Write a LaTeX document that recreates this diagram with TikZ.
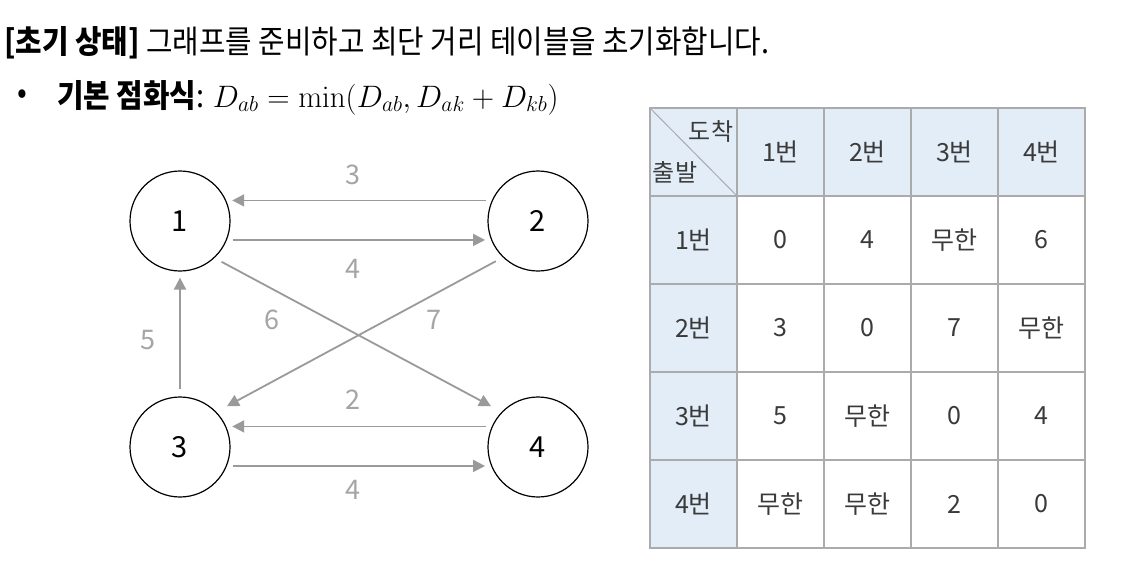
\RequirePackage{fix-cm}
\documentclass[tikz,border=0pt]{standalone}
\usepackage[no-math]{fontspec}
\setmainfont{Noto Sans CJK KR}
\newfontfamily\headfont[FakeStretch=0.9]{Noto Sans CJK KR}
\usepackage{tikz}
\usetikzlibrary{arrows.meta,positioning,calc}
\definecolor{edgegray}{HTML}{9A9A9A}
\definecolor{labelgray}{HTML}{A5A5A5}
\definecolor{gridgray}{HTML}{ABABAB}
\definecolor{headblue}{HTML}{E2EDF8}
\definecolor{textdark}{HTML}{3A3A3A}
\tikzset{
  title/.style={inner sep=0pt, text=black, font=\headfont\fontsize{32}{35}\selectfont},
  vertex/.style={draw=black, circle, line width=1.2pt, minimum size=100pt, inner sep=0pt, text=black, font=\fontsize{29}{31}\selectfont},
  edge/.style={-{Triangle[length=12pt,width=12pt]}, line width=1.8pt, draw=edgegray, shorten <=6pt, shorten >=6pt},
  weight/.style={inner sep=0pt, text=labelgray, font=\fontsize{27}{29}\selectfont},
  headcell/.style={draw=gridgray, fill=headblue, line width=1.2pt, minimum width=87pt, minimum height=88pt, inner sep=0pt, text=textdark, font=\fontsize{25}{28}\selectfont},
  cell/.style={draw=gridgray, fill=white, line width=1.2pt, minimum width=87pt, minimum height=88pt, inner sep=0pt, text=textdark, font=\fontsize{25}{28}\selectfont},
  cornerlabel/.style={inner sep=0pt, text=textdark, font=\fontsize{24}{26}\selectfont}
}
\begin{document}
\begin{tikzpicture}[x=1pt,y=1pt]
  \useasboundingbox[fill=white] (0,0) rectangle (1126,-563);

  % heading
  \node[title, anchor=base west] (title) at (4,-53) {\textbf{[초기 상태]} 그래프를 준비하고 최단 거리 테이블을 초기화합니다.};
  \node[title] (bullet) at (22,-97) {•};
  \node[title, anchor=base west] (rule) at (57,-107) {\textbf{기본 점화식}: {\fontsize{31}{34}\selectfont$D_{ab}=\min(D_{ab},D_{ak}+D_{kb})$}};

  % graph
  \node[vertex] (n1) at (180,-221) {1};
  \node[vertex] (n2) at (538,-221) {2};
  \node[vertex] (n3) at (180,-447) {3};
  \node[vertex] (n4) at (538,-447) {4};

  \draw[edge] (n2.156) -- (n1.24);
  \draw[edge] (n1.-22) -- (n2.202);
  \draw[edge] (n4.156) -- (n3.24);
  \draw[edge] (n3.-22) -- (n4.202);
  \draw[edge, shorten <=7pt] (n3.north) -- (n1.south);
  \draw[edge, shorten <=8pt, shorten >=12pt] (n1.-47) -- (n4.136);
  \draw[edge, shorten <=8pt, shorten >=12pt] (n2.226) -- (n3.44);

  \node[weight] (w21) at (353,-175) {3};
  \node[weight] (w12) at (353,-269) {4};
  \node[weight] (w14) at (272,-320) {6};
  \node[weight] (w23) at (434,-320) {7};
  \node[weight] (w31) at (148,-340) {5};
  \node[weight] (w43) at (353,-400) {2};
  \node[weight] (w34) at (353,-490) {4};

  % table
  \node[headcell] (corner) at (693.5,-152) {};
  \draw[draw=gridgray, line width=1pt] (corner.north west) -- (corner.south east);
  \node[cornerlabel] (dst) at (711,-131) {도착};
  \node[cornerlabel] (src) at (675,-172) {출발};
  \foreach \c/\lab in {1/1번,2/2번,3/3번,4/4번} {
    \node[headcell] (h-\c) at (693.5+87*\c,-152) {\lab};
    \node[headcell] (r-\c) at (693.5,-152-88*\c) {\lab};
  }
  \foreach \r/\vals in {1/{0,4,무한,6},2/{3,0,7,무한},3/{5,무한,0,4},4/{무한,무한,2,0}} {
    \foreach \v [count=\c] in \vals {
      \node[cell] (c-\r-\c) at (693.5+87*\c,-152-88*\r) {\v};
    }
  }
\end{tikzpicture}
\end{document}
